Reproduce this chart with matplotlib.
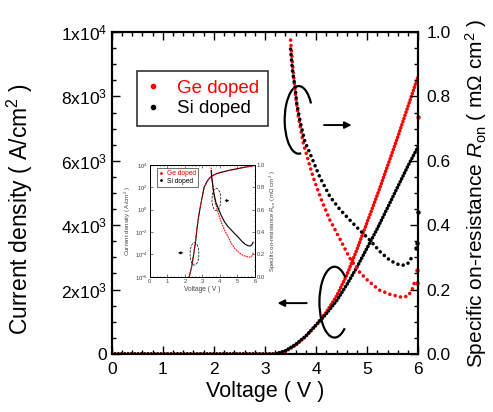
import matplotlib
matplotlib.use('Agg')
import matplotlib.pyplot as plt
from matplotlib.patches import Arc
from matplotlib.lines import Line2D
from matplotlib.ticker import MultipleLocator, FixedLocator, FixedFormatter

plt.rcParams['font.family'] = ['Liberation Sans', 'DejaVu Sans']
plt.rcParams['mathtext.fontset'] = 'custom'
plt.rcParams['mathtext.rm'] = 'Liberation Sans'
plt.rcParams['mathtext.it'] = 'Liberation Sans:italic'
plt.rcParams['mathtext.bf'] = 'Liberation Sans:bold'

# ---------------- data ----------------
series_names = ['Ge doped', 'Si doped']
series_colors = ['#ff0000', '#000000']

# current density (A/cm^2), linear scale
j_volt = [0.0, 3.2, 3.4, 3.6, 3.8, 4.0, 4.2, 4.4, 4.6, 4.8, 5.0, 5.2, 5.4, 5.6, 5.8, 6.0]
ge_current = [0, 0, 80, 270, 550, 900, 1300, 1800, 2450, 3250, 4100, 4950, 5850, 6750, 7700, 8650]
si_current = [0, 0, 100, 300, 560, 900, 1250, 1650, 2150, 2700, 3300, 3900, 4550, 5200, 5850, 6450]

# specific on-resistance (mOhm cm^2)
ge_ron_volt = [3.50, 3.55, 3.60, 3.65, 3.75, 3.94, 4.10, 4.27, 4.46, 4.65, 4.84, 5.00, 5.23, 5.45, 5.68, 5.80, 5.88, 5.92]
ge_ron = [0.975, 0.88, 0.80, 0.74, 0.654, 0.55, 0.48, 0.416, 0.359, 0.30, 0.256, 0.23, 0.199, 0.185, 0.176, 0.18, 0.20, 0.22]
si_ron_volt = [3.50, 3.52, 3.54, 3.59, 3.62, 3.69, 3.78, 3.88, 4.07, 4.27, 4.46, 4.66, 4.85, 5.05, 5.25, 5.45, 5.64, 5.75, 5.82, 5.87, 5.90]
si_ron = [0.947, 0.91, 0.877, 0.827, 0.78, 0.72, 0.66, 0.623, 0.55, 0.489, 0.45, 0.416, 0.385, 0.354, 0.318, 0.29, 0.276, 0.276, 0.285, 0.30, 0.31]
# stray points at the end of the sweep
ge_ron_end_volt = [5.97, 5.98, 5.99]
ge_ron_end = [0.22, 0.26, 0.735]
si_ron_end_volt = [5.96, 5.98, 5.99]
si_ron_end = [0.33, 0.345, 0.44]

# inset: current density on log scale (log10 A/cm^2)
inset_volt = [2.25, 2.4, 2.5, 2.6, 2.67, 2.75, 2.85, 3.0, 3.1, 3.2, 3.3, 3.4, 3.6, 3.8, 4.0, 4.5, 5.0, 5.5, 6.0]
inset_log_j = [-6.0, -5.0, -4.0, -3.0, -2.0, -1.0, 0.0, 1.2, 2.0, 2.3, 2.6, 2.8, 3.05, 3.2, 3.3, 3.5, 3.65, 3.8, 3.95]

left_ticks = [0, 2000, 4000, 6000, 8000, 10000]
left_ticklabels = ['0', '2x10$^3$', '4x10$^3$', '6x10$^3$', '8x10$^3$', '1x10$^4$']
inset_ticks = [1e-6, 1e-4, 1e-2, 1e0, 1e2, 1e4]
inset_ticklabels = ['10$^{-6}$', '10$^{-4}$', '10$^{-2}$', '10$^{0}$', '10$^{2}$', '10$^{4}$']

# ---------------- figure ----------------
fig = plt.figure(figsize=(4.93, 4.12), dpi=100)
ax = fig.add_axes([0.2266, 0.1408, 0.6219, 0.7815])
ax2 = ax.twinx()

cur_style = dict(ls=(0, (0.01, 0.9)), lw=2.6, dash_capstyle='round', solid_capstyle='round')
ron_style = dict(ls=(0, (0.01, 1.5)), lw=2.6, dash_capstyle='round', solid_capstyle='round')

ax.plot(j_volt, ge_current, color=series_colors[0], **cur_style)
ax.plot(j_volt, si_current, color=series_colors[1], **cur_style)
ax2.plot(ge_ron_volt, ge_ron, color=series_colors[0], **ron_style)
ax2.plot(si_ron_volt, si_ron, color=series_colors[1], **ron_style)
ax2.plot(ge_ron_end_volt, ge_ron_end, 'o', color=series_colors[0], ms=3.2, mew=0, clip_on=False)
ax2.plot(si_ron_end_volt, si_ron_end, 'o', color=series_colors[1], ms=3.2, mew=0, clip_on=False)

ax.set_xlim(0, 6)
ax.set_ylim(0, 10000)
ax2.set_ylim(0, 1.0)

ax.xaxis.set_major_locator(MultipleLocator(1))
ax.xaxis.set_minor_locator(MultipleLocator(0.2))
ax.yaxis.set_major_locator(FixedLocator(left_ticks))
ax.yaxis.set_major_formatter(FixedFormatter(left_ticklabels))
ax.yaxis.set_minor_locator(MultipleLocator(500))
ax2.yaxis.set_major_locator(MultipleLocator(0.2))
ax2.yaxis.set_minor_locator(MultipleLocator(0.05))
ax2.yaxis.set_major_formatter(matplotlib.ticker.FormatStrFormatter('%.1f'))

ax.tick_params(which='both', direction='in', top=True, right=False, width=1.0, labelsize=12.5)
ax.tick_params(which='major', length=6)
ax.tick_params(which='minor', length=3)
ax.tick_params(axis='x', pad=6)
ax2.tick_params(which='both', direction='in', width=1.0, labelsize=12.5)
ax2.tick_params(which='major', length=6, pad=6)
ax2.tick_params(which='minor', length=3)
for a in (ax, ax2):
    for s in a.spines.values():
        s.set_linewidth(1.5)

ax.set_xlabel('Voltage ( V )', fontsize=15.5, labelpad=3)
ax.set_ylabel('Current density ( A/cm$^2$ )', fontsize=16.5)
ax.yaxis.set_label_coords(-0.25, 0.45)
ax2.set_ylabel('Specific on-resistance $R_{\\mathrm{on}}$ ( m\u03a9 cm$^2$ )', fontsize=15)
ax2.yaxis.set_label_coords(1.145, 0.5)

# legend
handles = [Line2D([], [], ls='none', marker='o', ms=3, color=c) for c in series_colors]
leg = ax.legend(handles, series_names, loc='upper left', bbox_to_anchor=(0.082, 0.879),
                borderaxespad=0, fontsize=13.5, handlelength=0.8, handletextpad=0.9,
                labelspacing=0.2, borderpad=0.45, fancybox=False, frameon=True)
leg.get_frame().set_edgecolor('black')
leg.get_frame().set_linewidth(1.2)
for t, c in zip(leg.get_texts(), series_colors):
    t.set_color(c)

# annotations (open ellipses and arrows)
ax2.add_patch(Arc((3.66, 0.727), 0.55, 0.21, theta1=12, theta2=295, lw=1.6, color='black'))
ax2.annotate('', xy=(4.75, 0.711), xytext=(4.1, 0.711),
             arrowprops=dict(arrowstyle='-|>', color='black', lw=1.4, mutation_scale=10))
ax2.add_patch(Arc((4.36, 0.161), 0.59, 0.22, theta1=20, theta2=338, lw=1.6, color='black'))
ax2.annotate('', xy=(3.19, 0.158), xytext=(3.87, 0.158),
             arrowprops=dict(arrowstyle='-|>', color='black', lw=1.4, mutation_scale=10))

# ---------------- inset ----------------
ins = fig.add_axes([0.304, 0.328, 0.213, 0.272])
ins2 = ins.twinx()
inset_j = [10 ** v for v in inset_log_j]
ins.plot(inset_volt, inset_j, color='black', lw=0.8)
ins.plot(inset_volt, inset_j, color='red', lw=0.8, ls=(0, (2, 2)))
ins2.plot(ge_ron_volt, ge_ron, color='red', lw=0.8, ls=(0, (1.5, 0.8)))
ins2.plot(si_ron_volt, si_ron, color='black', lw=0.8)
ins.set_yscale('log')
ins.set_xlim(0, 6)
ins.set_ylim(1e-6, 1e4)
ins2.set_ylim(0, 1.0)
ins.yaxis.set_major_locator(FixedLocator(inset_ticks))
ins.yaxis.set_major_formatter(FixedFormatter(inset_ticklabels))
ins.yaxis.set_minor_locator(matplotlib.ticker.NullLocator())
ins.xaxis.set_major_locator(MultipleLocator(1))
ins.xaxis.set_minor_locator(MultipleLocator(0.2))
ins2.yaxis.set_major_locator(MultipleLocator(0.2))
ins2.yaxis.set_minor_locator(MultipleLocator(0.05))
ins2.yaxis.set_major_formatter(matplotlib.ticker.FormatStrFormatter('%.1f'))
ins.tick_params(which='both', direction='in', top=True, labelsize=4.2, length=2, width=0.5, pad=1.5, colors='#444444')
ins.tick_params(which='minor', length=1)
ins2.tick_params(which='both', direction='in', labelsize=4.2, length=2, width=0.5, pad=1.5, colors='#444444')
ins2.tick_params(which='minor', length=1)
for a in (ins, ins2):
    for s in a.spines.values():
        s.set_linewidth(0.7)
ins.set_xlabel('Voltage ( V )', fontsize=4.8, labelpad=1.5, color='#444444')
ins.set_ylabel('Current density ( A/cm$^2$ )', fontsize=4.5, labelpad=1, color='#444444')
ins2.set_ylabel('Specific on-resistance $R_{\\mathrm{on}}$ ( m\u03a9 cm$^2$ )', fontsize=4.3, labelpad=2, color='#444444')
ih = [Line2D([], [], ls='none', marker='o', ms=1, color=c) for c in series_colors]
il = ins.legend(ih, series_names, loc='upper left', bbox_to_anchor=(0.07, 0.97), fontsize=4.8,
                handlelength=0.6, handletextpad=0.6, labelspacing=0.1, borderpad=0.3,
                fancybox=False, borderaxespad=0)
il.get_frame().set_edgecolor('black')
il.get_frame().set_linewidth(0.5)
for t, c in zip(il.get_texts(), series_colors):
    t.set_color(c)
# inset ellipses drawn on the linear (right) inset axis
ins2.add_patch(Arc((2.55, 0.205), 0.5, 0.2, theta1=0, theta2=360, lw=0.5, ls='--', color='black'))
ins2.annotate('', xy=(1.45, 0.214), xytext=(2.05, 0.214),
              arrowprops=dict(arrowstyle='-|>', color='black', lw=0.6, mutation_scale=4))
ins2.add_patch(Arc((3.8, 0.69), 0.5, 0.2, theta1=0, theta2=360, lw=0.5, ls='--', color='black'))
ins2.annotate('', xy=(4.7, 0.68), xytext=(4.14, 0.68),
              arrowprops=dict(arrowstyle='-|>', color='black', lw=0.6, mutation_scale=4))

fig.savefig('out.png', dpi=100)
